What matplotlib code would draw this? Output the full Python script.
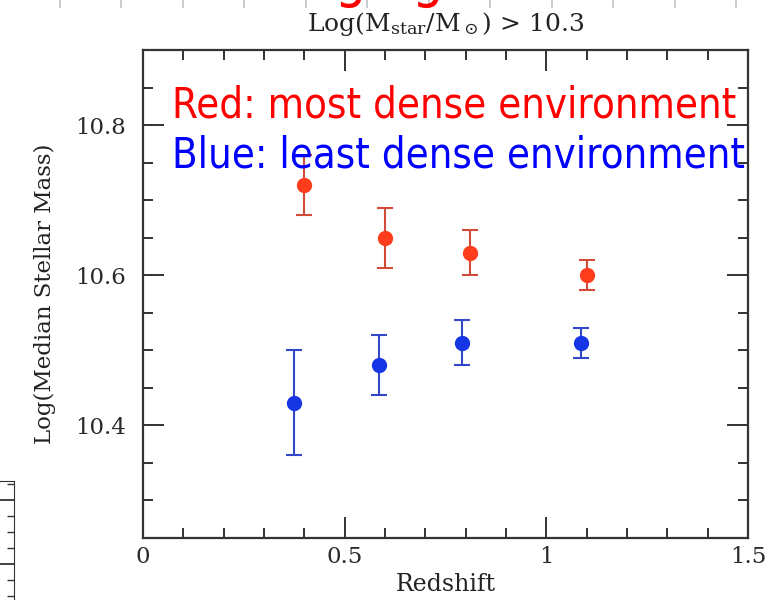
import matplotlib.pyplot as plt
from matplotlib.ticker import MultipleLocator

# median stellar mass vs redshift, Log(M*/Msun) > 10.3
z_dense = [0.40, 0.60, 0.81, 1.10]
mass_dense = [10.72, 10.65, 10.63, 10.60]
err_dense = [0.04, 0.04, 0.03, 0.02]

z_sparse = [0.375, 0.585, 0.79, 1.085]
mass_sparse = [10.43, 10.48, 10.51, 10.51]
err_sparse = [0.07, 0.04, 0.03, 0.02]

plt.rcParams['mathtext.fontset'] = 'dejavuserif'

fig = plt.figure(figsize=(7.72, 6.0), dpi=100)
ax = fig.add_axes([0.1852, 0.1033, 0.7837, 0.8133])

ax.errorbar(z_dense, mass_dense, yerr=err_dense, fmt='o', color='#ff3c1c',
            ecolor='#d24a3a', ms=10, elinewidth=1.5, capsize=5.5, capthick=1.5)
ax.errorbar(z_sparse, mass_sparse, yerr=err_sparse, fmt='o', color='#1636e6',
            ecolor='#3348c8', ms=10, elinewidth=1.5, capsize=5.5, capthick=1.5)

ax.set_xlim(0, 1.5)
ax.set_ylim(10.25, 10.9)
ax.xaxis.set_major_locator(MultipleLocator(0.5))
ax.xaxis.set_minor_locator(MultipleLocator(0.1))
ax.yaxis.set_major_locator(MultipleLocator(0.2))
ax.yaxis.set_minor_locator(MultipleLocator(0.05))
ax.set_xticks([0, 0.5, 1, 1.5], ['0', '0.5', '1', '1.5'])
ax.set_yticks([10.4, 10.6, 10.8], ['10.4', '10.6', '10.8'])
ax.tick_params(which='both', direction='in', top=True, right=True,
               width=1.3, color='#222222', labelsize=16.5)
ax.tick_params(axis='x', pad=6)
ax.tick_params(axis='y', pad=12)
ax.tick_params(which='major', length=15)
ax.tick_params(which='minor', length=7)
for lab in ax.get_xticklabels() + ax.get_yticklabels():
    lab.set_family('DejaVu Serif')
    lab.set_color('#2a2a2a')
for s in ax.spines.values():
    s.set_linewidth(1.6)
    s.set_color('#333333')

ax.set_xlabel('Redshift', family='DejaVu Serif', fontsize=17, color='#222222', labelpad=3)
ax.set_ylabel('Log(Median Stellar Mass)', family='DejaVu Serif', fontsize=16.5,
              color='#222222', labelpad=14)
ax.set_title(r'Log(M$_{\rm star}$/M$_\odot$) > 10.3', family='DejaVu Serif',
             fontsize=18, color='#222222', pad=14)

# slide annotations over the plot
fig.text(172 / 772, 1 - 118 / 600, 'Red: most dense environment', color='#ff0000',
         fontsize=30, family='DejaVu Sans', stretch='condensed', va='baseline')
fig.text(172 / 772, 1 - 168 / 600, 'Blue: least dense environment', color='#0000ff',
         fontsize=30, family='DejaVu Sans', stretch='condensed', va='baseline')
# slide heading, mostly cut off above
fig.text(206 / 772, 1.0 + 4 / 600, 'Changing', color='#ff0000', fontsize=40,
         family='DejaVu Sans', stretch='condensed', va='baseline')

# faint ruler marks along the top edge
ruler = fig.add_axes([0.0, 1 - 8 / 600, 1.0, 0.05])
ruler.set_xlim(-60 / 61.5, (772 - 60) / 61.5)
ruler.xaxis.set_major_locator(MultipleLocator(1))
ruler.tick_params(axis='x', direction='in', length=8, width=1.2, color='#c4c4c4',
                  labelbottom=False)
ruler.tick_params(axis='y', left=False, labelleft=False)
ruler.patch.set_visible(False)
for s in ruler.spines.values():
    s.set_visible(False)

# edge of neighbouring panel on the left
side = fig.add_axes([-0.1, -20 / 600, 0.118, 139 / 600])
side.set_xlim(0, 1)
side.set_ylim(1.875, -0.297)
side.yaxis.set_major_locator(MultipleLocator(1))
side.yaxis.set_minor_locator(MultipleLocator(0.25))
side.tick_params(which='both', direction='in', left=False, right=True,
                 labelleft=False, labelbottom=False, bottom=False, color='#333333')
side.tick_params(which='major', length=10, width=1.3)
side.tick_params(which='minor', length=5, width=1.0)
for s in side.spines.values():
    s.set_color('#333333')

fig.savefig('out.png', dpi=100)
